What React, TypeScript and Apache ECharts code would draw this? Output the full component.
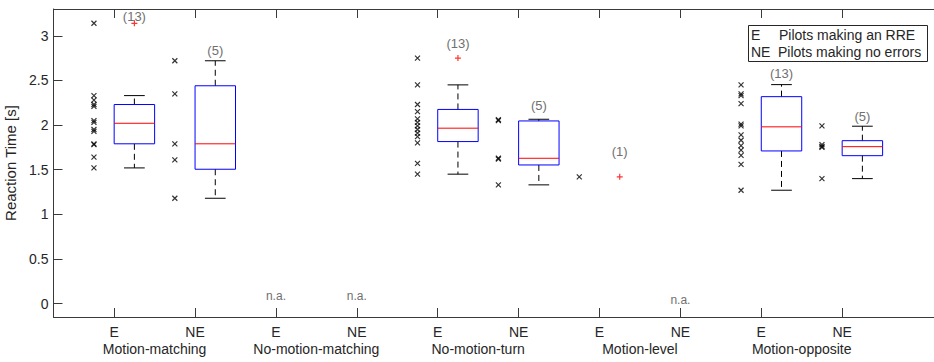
import React, { useEffect, useRef } from 'react';
import * as echarts from 'echarts';

const groupNames = ['Motion-matching', 'No-motion-matching', 'No-motion-turn', 'Motion-level', 'Motion-opposite'];
const groupCenters = [1.5, 3.5, 5.5, 7.5, 9.5];
const tickLabels = ['E', 'NE', 'E', 'NE', 'E', 'NE', 'E', 'NE', 'E', 'NE'];
const tickPositions = [1, 2, 3, 4, 5, 6, 7, 8, 9, 10];
const yTicks = [0, 0.5, 1, 1.5, 2, 2.5, 3];

// individual pilot reaction times per position
const mmE = [3.14, 2.33, 2.28, 2.23, 2.21, 2.05, 2.03, 1.95, 1.93, 1.79, 1.78, 1.64, 1.52];
const mmNE = [2.72, 2.35, 1.79, 1.61, 1.18];
const nmtE = [2.75, 2.45, 2.23, 2.15, 2.07, 2.03, 1.99, 1.95, 1.91, 1.87, 1.8, 1.57, 1.45];
const nmtNE = [2.06, 2.05, 1.63, 1.62, 1.33];
const mlE = [1.42];
const moE = [2.45, 2.35, 2.33, 2.24, 2.01, 1.99, 1.89, 1.83, 1.77, 1.72, 1.66, 1.56, 1.27];
const moNE = [1.99, 1.78, 1.76, 1.75, 1.4];
const pilotPositions = [1, 2, 5, 6, 7, 9, 10];
const pilotValues = [mmE, mmNE, nmtE, nmtNE, mlE, moE, moNE];

// box statistics
const boxPositions = [1, 2, 5, 6, 9, 10];
const boxLow = [1.52, 1.18, 1.45, 1.33, 1.27, 1.4];
const boxQ1 = [1.79, 1.505, 1.815, 1.553, 1.71, 1.657];
const boxMedian = [2.02, 1.79, 1.965, 1.628, 1.98, 1.758];
const boxQ3 = [2.23, 2.44, 2.175, 2.046, 2.318, 1.825];
const boxHigh = [2.33, 2.72, 2.45, 2.065, 2.453, 1.987];

const outlierPositions = [1, 5, 7];
const outlierValues = [3.14, 2.75, 1.42];

const countPositions = [1, 2, 5, 6, 7, 9, 10];
const countLabels = ['(13)', '(5)', '(13)', '(5)', '(1)', '(13)', '(5)'];
const countY = [3.215, 2.83, 2.91, 2.22, 1.7, 2.572, 2.094];

const naPositions = [3, 4, 8];
const naY = [0.083, 0.083, 0.041];

const FONT = '"Liberation Sans", Arial, Helvetica, sans-serif';
const AXIS_COLOR = '#3a3a3a';
const TEXT_COLOR = '#262626';
const NOTE_COLOR = '#707070';

export default function App() {
  const ref = useRef<HTMLDivElement>(null);
  useEffect(() => {
    if (!ref.current) return;
    const chart = echarts.init(ref.current, undefined, { renderer: 'svg' });

    const scatterData: number[][] = [];
    pilotPositions.forEach((p, i) => {
      pilotValues[i].forEach((v) => scatterData.push([p - 0.25, v]));
    });
    const boxData = boxPositions.map((p, i) => [p + 0.25, boxLow[i], boxQ1[i], boxMedian[i], boxQ3[i], boxHigh[i]]);
    const outlierData = outlierPositions.map((p, i) => [p + 0.25, outlierValues[i]]);
    const countData = countPositions.map((p, i) => [p + 0.25, countY[i]]);
    const naData = naPositions.map((p, i) => [p, naY[i]]);

    const labelValues: number[] = [];
    tickPositions.forEach((t) => labelValues.push(t));
    groupCenters.forEach((g) => labelValues.push(g));
    labelValues.sort((a, b) => a - b);

    const option: any = {
      animation: false,
      textStyle: { fontFamily: FONT },
      grid: { show: false, borderWidth: 0, left: 53.5, top: 9, width: 910, height: 308, containLabel: false, outerBoundsMode: 'none' },
      xAxis: [
        {
          type: 'value',
          position: 'bottom',
          min: 0.25,
          max: 11.5,
          axisLine: { show: true, onZero: false, lineStyle: { color: AXIS_COLOR, width: 1 } },
          axisTick: { show: true, inside: true, length: 9, customValues: tickPositions, lineStyle: { color: AXIS_COLOR, width: 1 } },
          axisLabel: {
            show: true,
            customValues: labelValues,
            hideOverlap: false,
            margin: 7,
            formatter: (v: number) => {
              const r = Math.round(v);
              if (Math.abs(v - r) < 1e-6) return '{t|' + tickLabels[r - 1] + '}';
              const gi = groupCenters.indexOf(v);
              return '{g|' + groupNames[gi] + '}';
            },
            rich: {
              t: { fontSize: 14, color: TEXT_COLOR, fontFamily: FONT, height: 16 },
              g: { fontSize: 14, color: TEXT_COLOR, fontFamily: FONT, padding: [18, 0, 0, 0] },
            },
          },
          splitLine: { show: false },
        },
        {
          type: 'value',
          position: 'top',
          min: 0.25,
          max: 11.5,
          axisLine: { show: true, onZero: false, lineStyle: { color: AXIS_COLOR, width: 1 } },
          axisTick: { show: true, inside: true, length: 9, customValues: tickPositions, lineStyle: { color: AXIS_COLOR, width: 1 } },
          axisLabel: { show: false },
          splitLine: { show: false },
        },
      ],
      yAxis: {
        type: 'value',
        min: -0.15,
        max: 3.3,
        name: 'Reaction Time [s]',
        nameLocation: 'middle',
        nameGap: 24,
        nameTextStyle: { fontSize: 15, color: TEXT_COLOR, fontFamily: FONT },
        axisLine: { show: true, onZero: false, lineStyle: { color: AXIS_COLOR, width: 1 } },
        axisTick: { show: true, inside: true, length: 9, customValues: yTicks, lineStyle: { color: AXIS_COLOR, width: 1 } },
        axisLabel: { show: true, customValues: yTicks, margin: 5, fontSize: 14, color: TEXT_COLOR, fontFamily: FONT },
        splitLine: { show: false },
      },
      series: [
        {
          type: 'custom',
          name: 'boxes',
          clip: false,
          encode: { x: 0, y: [1, 2, 3, 4, 5] },
          data: boxData,
          renderItem: (params: any, api: any) => {
            const x = api.value(0);
            const lw = api.value(1);
            const q1 = api.value(2);
            const md = api.value(3);
            const q3 = api.value(4);
            const hw = api.value(5);
            const c = (xx: number, yy: number) => api.coord([xx, yy]);
            const xl = c(x - 0.25, q3)[0];
            const xr = c(x + 0.25, q3)[0];
            const xc = c(x, q3)[0];
            const cl = c(x - 0.128, q3)[0];
            const cr = c(x + 0.128, q3)[0];
            const yq3 = c(x, q3)[1];
            const yq1 = c(x, q1)[1];
            const ymd = c(x, md)[1];
            const yl = c(x, lw)[1];
            const yh = c(x, hw)[1];
            const dashed = { stroke: '#000', lineWidth: 1, lineDash: [6, 4], fill: 'none' };
            const solid = { stroke: '#000', lineWidth: 1, fill: 'none' };
            return {
              type: 'group',
              children: [
                { type: 'line', shape: { x1: xc, y1: yq3, x2: xc, y2: yh }, style: dashed },
                { type: 'line', shape: { x1: xc, y1: yq1, x2: xc, y2: yl }, style: dashed },
                { type: 'line', shape: { x1: cl, y1: yh, x2: cr, y2: yh }, style: solid },
                { type: 'line', shape: { x1: cl, y1: yl, x2: cr, y2: yl }, style: solid },
                { type: 'rect', shape: { x: xl, y: yq3, width: xr - xl, height: yq1 - yq3 }, style: { fill: 'none', stroke: '#0000ff', lineWidth: 1 } },
                { type: 'line', shape: { x1: xl, y1: ymd, x2: xr, y2: ymd }, style: { stroke: '#ff0000', lineWidth: 1 } },
              ],
            };
          },
          z: 3,
        },
        {
          type: 'scatter',
          name: 'pilots',
          data: scatterData,
          symbol: 'path://M0,0L10,10M10,0L0,10',
          symbolSize: 5,
          itemStyle: { color: 'rgba(0,0,0,0)', borderColor: '#000', borderWidth: 1.2 },
          z: 4,
        },
        {
          type: 'scatter',
          name: 'outliers',
          data: outlierData,
          symbol: 'path://M5,0L5,10M0,5L10,5',
          symbolSize: 6,
          itemStyle: { color: 'rgba(0,0,0,0)', borderColor: '#ff0000', borderWidth: 1.2 },
          z: 5,
        },
        {
          type: 'custom',
          name: 'counts',
          clip: false,
          encode: { x: 0, y: 1 },
          data: countData,
          renderItem: (params: any, api: any) => {
            const pt = api.coord([api.value(0), api.value(1)]);
            return {
              type: 'text',
              x: pt[0],
              y: pt[1],
              style: { text: countLabels[params.dataIndex], fill: NOTE_COLOR, fontSize: 13, fontFamily: FONT, align: 'center', verticalAlign: 'middle' },
            };
          },
          z: 6,
        },
        {
          type: 'custom',
          name: 'na',
          clip: false,
          encode: { x: 0, y: 1 },
          data: naData,
          renderItem: (params: any, api: any) => {
            const pt = api.coord([api.value(0), api.value(1)]);
            return {
              type: 'text',
              x: pt[0],
              y: pt[1],
              style: { text: 'n.a.', fill: NOTE_COLOR, fontSize: 12, fontFamily: FONT, align: 'center', verticalAlign: 'middle' },
            };
          },
          z: 6,
        },
      ],
      graphic: [
        {
          type: 'group',
          left: 748,
          top: 25,
          children: [
            { type: 'rect', shape: { x: 0.5, y: 0.5, width: 179, height: 36 }, style: { fill: '#fff', stroke: '#262626', lineWidth: 1 } },
            { type: 'text', x: 3, y: 9.5, style: { text: 'E', fill: TEXT_COLOR, fontSize: 14, fontFamily: FONT, verticalAlign: 'middle' } },
            { type: 'text', x: 31, y: 9.5, style: { text: 'Pilots making an RRE', fill: TEXT_COLOR, fontSize: 14, fontFamily: FONT, verticalAlign: 'middle' } },
            { type: 'text', x: 3, y: 26.5, style: { text: 'NE', fill: TEXT_COLOR, fontSize: 14, fontFamily: FONT, verticalAlign: 'middle' } },
            { type: 'text', x: 30, y: 26.5, style: { text: 'Pilots making no errors', fill: TEXT_COLOR, fontSize: 14, fontFamily: FONT, verticalAlign: 'middle' } },
          ],
          z: 10,
        },
      ],
    };
    chart.setOption(option);
    return () => chart.dispose();
  }, []);
  return <div ref={ref} style={{ position: 'absolute', left: 0, top: 0, width: 934, height: 362 }} />;
}
